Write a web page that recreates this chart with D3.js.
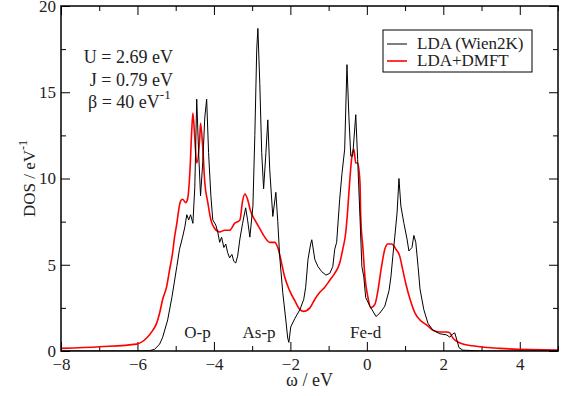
<!DOCTYPE html>
<html lang="en">
<head>
    <meta charset="UTF-8">
    <title>DOS LDA vs LDA+DMFT</title>
    <script src="https://cdn.jsdelivr.net/npm/d3@7"></script>
    <style>
        body { margin: 0; background: #fff; }
        text { font-family: "Liberation Serif", "Times New Roman", serif; fill: #222; }
    </style>
</head>
<body>
<script>
    // LDA (Wien2K), black
    const omegaLda = [-8.0, -6.02, -5.68, -5.55, -5.42, -5.34, -5.21, -5.10, -4.97, -4.90, -4.82, -4.76, -4.71, -4.66, -4.61, -4.55,
        -4.50, -4.45, -4.40, -4.35, -4.29, -4.24, -4.19, -4.14, -4.08, -4.03, -3.95, -3.90, -3.85, -3.80, -3.74, -3.69, -3.64,
        -3.59, -3.53, -3.48, -3.43, -3.38, -3.32, -3.25, -3.17, -3.12, -3.06, -2.98, -2.93, -2.88, -2.85, -2.80, -2.75, -2.70,
        -2.64, -2.59, -2.54, -2.46, -2.38, -2.33, -2.28, -2.20, -2.12, -2.07, -2.04, -1.99, -1.88, -1.75, -1.65, -1.60, -1.54,
        -1.47, -1.44, -1.36, -1.28, -1.18, -1.07, -0.97, -0.89, -0.84, -0.79, -0.71, -0.65, -0.58, -0.52, -0.47, -0.42, -0.37,
        -0.29, -0.24, -0.18, -0.13, -0.08, -0.03, 0.08, 0.24, 0.34, 0.47, 0.58, 0.63, 0.68, 0.73, 0.79, 0.84, 0.89, 0.97, 1.05,
        1.10, 1.18, 1.23, 1.28, 1.34, 1.39, 1.49, 1.60, 1.73, 1.91, 2.09, 2.17, 2.25, 2.30, 2.36, 2.41, 2.51, 2.96, 5.0]
    const dosLda = [0, 0, 0.02, 0.1, 0.4, 0.8, 1.8, 3.1, 4.9, 5.9, 6.6, 7.2, 7.9, 7.6, 7.9, 7.4,
        9.5, 14.6, 11.5, 9.0, 11.0, 13.5, 14.6, 11.5, 9.0, 7.6, 7.3, 6.9, 6.3, 6.6, 6.0, 6.2, 5.7,
        5.4, 5.6, 5.2, 5.1, 5.5, 6.5, 7.4, 8.3, 7.6, 6.6, 8.4, 12.5, 17.5, 18.7, 15.5, 11.5, 9.4,
        11.5, 13.4, 10.5, 7.8, 9.2, 7.5, 5.5, 3.4, 1.8, 0.75, 0.5, 1.4, 1.9, 2.4, 3.0, 3.7, 5.3,
        6.2, 6.45, 5.3, 4.9, 4.6, 4.4, 4.5, 4.9, 5.9, 6.3, 8.8, 10.3, 11.7, 16.6, 13.6, 11.3, 11.3,
        13.7, 11.1, 7.8, 4.9, 4.3, 3.1, 2.6, 2.0, 2.2, 2.6, 3.5, 4.3, 5.5, 6.6, 8.0, 10.0, 8.4, 7.4, 6.5,
        5.8, 6.0, 6.7, 6.3, 4.9, 3.6, 2.4, 1.6, 1.2, 1.0, 0.93, 0.8, 1.0, 1.05, 0.6, 0.2, 0.05, 0, 0]

    // LDA+DMFT, red
    const omegaDmft = [-8.0, -6.99, -6.02, -5.76, -5.60, -5.50, -5.42, -5.34, -5.24, -5.16, -5.08, -5.03, -4.97, -4.92, -4.87,
        -4.82, -4.74, -4.69, -4.63, -4.58, -4.55, -4.50, -4.45, -4.37, -4.35, -4.29, -4.24, -4.16, -4.08, -3.98, -3.85, -3.72,
        -3.59, -3.46, -3.32, -3.25, -3.19, -3.12, -3.04, -2.93, -2.80, -2.67, -2.54, -2.41, -2.33, -2.25, -2.15, -2.02, -1.88,
        -1.75, -1.65, -1.49, -1.36, -1.23, -1.10, -0.97, -0.84, -0.71, -0.63, -0.55, -0.50, -0.45, -0.39, -0.34, -0.29, -0.24,
        -0.18, -0.16, -0.10, -0.05, 0.03, 0.10, 0.21, 0.29, 0.37, 0.47, 0.55, 0.65, 0.76, 0.86, 0.94, 1.02, 1.13, 1.26, 1.39,
        1.57, 1.73, 1.91, 2.09, 2.17, 2.25, 2.36, 2.51, 2.77, 3.14, 3.48, 5.0]
    const dosDmft = [0.15, 0.25, 0.4, 0.75, 1.2, 1.6, 2.2, 3.0, 3.7, 4.7, 5.7, 6.6, 7.4, 8.2, 8.7,
        8.8, 8.6, 8.8, 10.3, 12.8, 13.8, 12.3, 10.9, 12.4, 13.2, 11.7, 9.8, 8.6, 7.6, 7.1, 6.9, 7.0,
        7.0, 7.4, 7.6, 8.7, 9.1, 8.8, 8.1, 7.6, 7.1, 6.6, 6.3, 6.3, 6.0, 5.3, 4.3, 3.5, 2.9,
        2.4, 2.3, 2.5, 3.0, 3.4, 3.7, 4.1, 4.5, 5.1, 5.9, 6.9, 8.2, 9.8, 11.3, 11.7, 10.9, 10.9,
        9.8, 7.8, 5.9, 4.3, 3.1, 2.5, 2.7, 3.5, 4.7, 5.9, 6.2, 6.2, 5.9, 5.5, 4.7, 3.9, 3.0, 2.2, 1.8,
        1.5, 1.2, 1.1, 1.1, 1.05, 0.75, 0.55, 0.4, 0.3, 0.2, 0.15, 0.05]

    const xMajorTicks = [-8, -6, -4, -2, 0, 2, 4]
    const xMinorTicks = [-7, -5, -3, -1, 1, 3, 5]
    const yMajorTicks = [0, 5, 10, 15, 20]
    const yMinorTicks = [2.5, 7.5, 12.5, 17.5]
    const bandLabels = ['O-p', 'As-p', 'Fe-d']
    const bandLabelX = [-4.43, -2.82, -0.03]
    const seriesNames = ['LDA (Wien2K)', 'LDA+DMFT']
    const seriesColors = ['#000000', '#ff0000']
    const paramLines = ['U = 2.69 eV', 'J = 0.79 eV']

    const [width, height] = [566, 396]
    const [plotLeft, plotRight, plotTop, plotBottom] = [61, 558, 6, 351]

    const svg = d3.select('body').append('svg').attr('width', width).attr('height', height)
    const x = d3.scaleLinear().domain([-8, 5]).range([plotLeft, plotRight])
    const y = d3.scaleLinear().domain([0, 20]).range([plotBottom, plotTop])

    const axisStyle = g => {
        g.select('.domain').remove()
        g.selectAll('.tick line').attr('stroke', '#000').attr('stroke-width', 1)
        g.selectAll('.tick text').attr('font-size', 17).attr('fill', '#222')
            .style('font-family', '"Liberation Serif", "Times New Roman", serif')
    }

    // bottom + top
    svg.append('g').attr('transform', `translate(0, ${plotBottom})`)
        .call(d3.axisBottom(x).tickValues(xMajorTicks).tickSizeInner(-9).tickSizeOuter(0).tickPadding(7).tickFormat(d3.format('d')))
        .call(axisStyle)
    svg.append('g').attr('transform', `translate(0, ${plotBottom})`)
        .call(d3.axisBottom(x).tickValues(xMinorTicks).tickSizeInner(-5).tickSizeOuter(0).tickFormat(''))
        .call(axisStyle)
    svg.append('g').attr('transform', `translate(0, ${plotTop})`)
        .call(d3.axisTop(x).tickValues(xMajorTicks).tickSizeInner(-9).tickSizeOuter(0).tickFormat(''))
        .call(axisStyle)
    svg.append('g').attr('transform', `translate(0, ${plotTop})`)
        .call(d3.axisTop(x).tickValues(xMinorTicks).tickSizeInner(-5).tickSizeOuter(0).tickFormat(''))
        .call(axisStyle)

    // left + right
    svg.append('g').attr('transform', `translate(${plotLeft}, 0)`)
        .call(d3.axisLeft(y).tickValues(yMajorTicks).tickSizeInner(-9).tickSizeOuter(0).tickPadding(5))
        .call(axisStyle)
    svg.append('g').attr('transform', `translate(${plotLeft}, 0)`)
        .call(d3.axisLeft(y).tickValues(yMinorTicks).tickSizeInner(-5).tickSizeOuter(0).tickFormat(''))
        .call(axisStyle)
    svg.append('g').attr('transform', `translate(${plotRight}, 0)`)
        .call(d3.axisRight(y).tickValues(yMajorTicks).tickSizeInner(-9).tickSizeOuter(0).tickFormat(''))
        .call(axisStyle)
    svg.append('g').attr('transform', `translate(${plotRight}, 0)`)
        .call(d3.axisRight(y).tickValues(yMinorTicks).tickSizeInner(-5).tickSizeOuter(0).tickFormat(''))
        .call(axisStyle)

    const clip = svg.append('clipPath').attr('id', 'plot-clip')
    clip.append('rect').attr('x', plotLeft).attr('y', plotTop).attr('width', plotRight - plotLeft).attr('height', plotBottom - plotTop)

    const ldaLine = d3.line().x(d => x(d[0])).y(d => y(d[1]))
    const dmftLine = d3.line().x(d => x(d[0])).y(d => y(d[1])).curve(d3.curveMonotoneX)

    const plot = svg.append('g').attr('clip-path', 'url(#plot-clip)')
    plot.append('path').datum(d3.zip(omegaDmft, dosDmft))
        .attr('d', dmftLine).attr('fill', 'none').attr('stroke', seriesColors[1]).attr('stroke-width', 1.6)
    plot.append('path').datum(d3.zip(omegaLda, dosLda))
        .attr('d', ldaLine).attr('fill', 'none').attr('stroke', seriesColors[0]).attr('stroke-width', 1)
        .attr('stroke-linejoin', 'round')

    // frame
    svg.append('rect').attr('x', plotLeft).attr('y', plotTop).attr('width', plotRight - plotLeft).attr('height', plotBottom - plotTop)
        .attr('fill', 'none').attr('stroke', '#000').attr('stroke-width', 1.5)

    // band labels
    svg.selectAll('text.band').data(bandLabels).enter().append('text').classed('band', true)
        .attr('x', (d, i) => x(bandLabelX[i])).attr('y', 338)
        .attr('text-anchor', 'middle').attr('font-size', 17).text(d => d)

    // parameters
    svg.selectAll('text.param').data(paramLines).enter().append('text').classed('param', true)
        .attr('x', 173).attr('y', (d, i) => 63 + i * 23)
        .attr('text-anchor', 'end').attr('font-size', 18).text(d => d)
    const beta = svg.append('text').attr('x', 88).attr('y', 108).attr('font-size', 18)
    beta.append('tspan').text('β = 40 eV')
    beta.append('tspan').attr('dy', -9).attr('font-size', 13).text('-1')

    // axis titles
    svg.append('text').attr('x', (plotLeft + plotRight) / 2).attr('y', 386).attr('text-anchor', 'middle')
        .attr('font-size', 18).text('ω / eV')
    const yTitle = svg.append('text').attr('transform', `translate(35, ${(plotTop + plotBottom) / 2}) rotate(-90)`)
        .attr('text-anchor', 'middle').attr('font-size', 17)
    yTitle.append('tspan').text('DOS / eV')
    yTitle.append('tspan').attr('dy', -8).attr('font-size', 12).text('-1')

    // legend
    const legend = svg.append('g')
    legend.append('rect').attr('x', 383).attr('y', 30).attr('width', 149).attr('height', 42)
        .attr('fill', '#fff').attr('stroke', '#000').attr('stroke-width', 1)
    seriesNames.forEach((name, i) => {
        const ly = 44 + i * 17
        legend.append('line').attr('x1', 387).attr('x2', 407).attr('y1', ly).attr('y2', ly)
            .attr('stroke', seriesColors[i]).attr('stroke-width', i === 1 ? 1.6 : 1)
        legend.append('text').attr('x', 417).attr('y', ly + 5).attr('font-size', 17).text(name)
    })
</script>
</body>
</html>
